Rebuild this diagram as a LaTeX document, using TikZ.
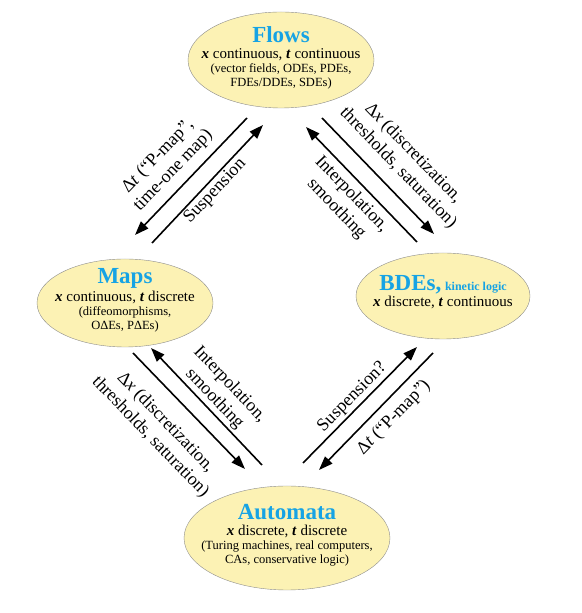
\documentclass[tikz,border=0pt]{standalone}
\usepackage{fontspec}
\setmainfont{Liberation Serif}
\usepackage{xcolor}
\usetikzlibrary{arrows.meta, calc, shapes.geometric}

\definecolor{blobfill}{RGB}{252,242,180}
\definecolor{titleblue}{RGB}{22,163,228}

\newcommand{\bx}{\textbf{\textit{x}}}
\newcommand{\bt}{\textbf{\textit{t}}}
\newcommand{\ttl}[1]{{\fontsize{23}{26}\selectfont\bfseries\color{titleblue}#1}}
\newcommand{\smallfnt}{\fontsize{12.5}{13.5}\selectfont}

\tikzset{
  blob/.style={draw=black!45, thin, fill=blobfill, ellipse, inner sep=0pt},
  blobtext/.style={align=center, font=\fontsize{15}{14}\selectfont},
  arr/.style={-{Triangle[length=14pt, width=10pt]}, line width=1.6pt},
  lbl/.style={sloped, align=center, inner sep=2pt, font=\fontsize{18}{21}\selectfont}
}

\begin{document}
\begin{tikzpicture}[x=1pt, y=1pt]
  \useasboundingbox (0,0) rectangle (581,613);

  % the four kinds of model
  \node[blob, minimum width=186, minimum height=96] (flows) at (281,553) {};
  \node[blob, minimum width=176, minimum height=88] (maps) at (125,310) {};
  \node[blob, minimum width=174, minimum height=86] (bdes) at (443,317) {};
  \node[blob, minimum width=206, minimum height=104] (automata) at (287,75) {};

  \node[blobtext] (flowstxt) at ($(flows)+(0,2)$) {\ttl{Flows}\\[2pt]
    \bx{} continuous, \bt{} continuous\\
    \smallfnt (vector fields, ODEs, PDEs,\\ \smallfnt FDEs/DDEs, SDEs)};
  \node[blobtext] (mapstxt) at ($(maps)+(0,3)$) {\ttl{Maps}\\[2pt]
    \bx{} continuous, \bt{} discrete\\
    \smallfnt (diffeomorphisms,\\ \smallfnt OΔEs, PΔEs)};
  \node[blobtext] (bdestxt) at ($(bdes)+(0,4)$) {\ttl{BDEs,} {\fontsize{12}{14}\selectfont\bfseries\color{titleblue}kinetic logic}\\[2pt]
    \bx{} discrete, \bt{} continuous};
  \node[blobtext] (automatatxt) at ($(automata)+(0,3)$) {\ttl{Automata}\\[2pt]
    \bx{} discrete, \bt{} discrete\\
    \smallfnt (Turing machines, real computers,\\ \smallfnt CAs, conservative logic)};

  % flows <-> maps
  \draw[arr] ($(flows)+(-34,-58)$) -- ($(maps)+(10,68)$)
    node[lbl, pos=0.55, above=6pt] {Δ\textit{t} (“P-map”,\\ time-one map)};
  \draw[arr] ($(maps)+(27,60)$) -- ($(flows)+(-18,-65)$)
    node[lbl, pos=0.5, below] {Suspension};

  % flows <-> bdes
  \draw[arr] ($(flows)+(41,-58)$) -- ($(bdes)+(-9,62)$)
    node[lbl, pos=0.55, above=9pt] {Δ\textit{x} (discretization,\\ thresholds, saturation)};
  \draw[arr] ($(bdes)+(-26,54)$) -- ($(flows)+(25,-67)$)
    node[lbl, pos=0.5, below=3pt] {Interpolation,\\ smoothing};

  % maps <-> automata
  \draw[arr] ($(automata)+(-25,73)$) -- ($(maps)+(26,-45)$)
    node[lbl, pos=0.5, above] {Interpolation,\\ smoothing};
  \draw[arr] ($(maps)+(8,-50)$) -- ($(automata)+(-42,69)$)
    node[lbl, pos=0.45, below=14pt] {Δ\textit{x} (discretization,\\ thresholds, saturation)};

  % bdes <-> automata
  \draw[arr] ($(automata)+(16,75)$) -- ($(bdes)+(-26,-51)$)
    node[lbl, pos=0.5, above] {Suspension?};
  \draw[arr] ($(bdes)+(-10,-57)$) -- ($(automata)+(32,68)$)
    node[lbl, pos=0.45, below=6pt] {Δ\textit{t} (“P-map”)};
\end{tikzpicture}
\end{document}
